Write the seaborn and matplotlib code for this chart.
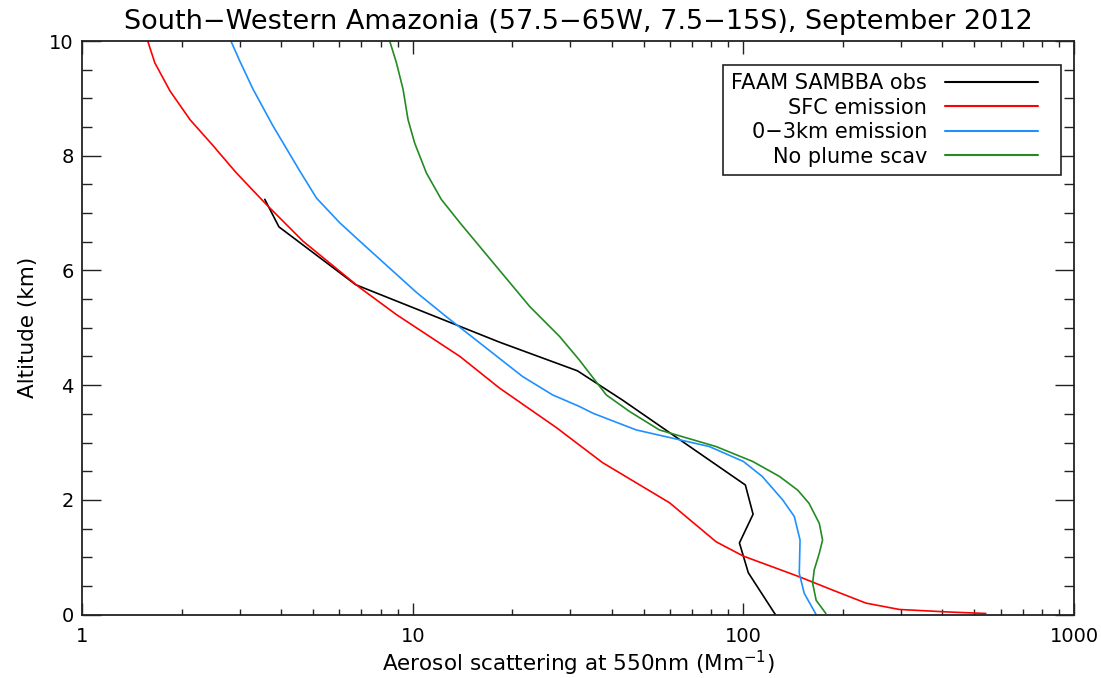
import numpy as np
import pandas as pd
import matplotlib
matplotlib.use("Agg")
import matplotlib.pyplot as plt
import seaborn as sns
from matplotlib.ticker import LogLocator, MultipleLocator, FixedLocator, NullFormatter
from matplotlib.lines import Line2D
from matplotlib.legend_handler import HandlerLine2D

# ---- data ----
series_names = ["FAAM SAMBBA obs", "SFC emission", "0\u22123km emission", "No plume scav"]
series_colors = ["#000000", "#ff0000", "#1e90ff", "#228b22"]

obs_x = [3.57, 3.94, 6.73, 18.3, 31.5, 43.1, 101.4, 107, 97.3, 103.5, 125]
obs_y = [7.24, 6.76, 5.75, 4.75, 4.25, 3.74, 2.26, 1.75, 1.25, 0.73, 0.0]

sfc_x = [1.58, 1.66, 1.845, 2.12, 2.47, 2.93, 3.61, 4.66, 6.92, 8.93, 13.9, 18.3,
         27.2, 37.5, 59.8, 82.7, 100, 147.6, 185.7, 235, 296, 419, 541]
sfc_y = [10.0, 9.62, 9.13, 8.63, 8.2, 7.70, 7.15, 6.51, 5.70, 5.23, 4.50, 3.95,
         3.26, 2.65, 1.95, 1.27, 1.02, 0.66, 0.43, 0.20, 0.09, 0.045, 0.02]

blue_x = [2.82, 3.0, 3.29, 3.78, 4.56, 5.12, 6.02, 6.92, 10.3, 12.6, 21.5, 26.5, 31.9,
          35.1, 47.4, 78.9, 100, 114, 131.5, 142.6, 148.4, 147.6, 152.8, 162, 166]
blue_y = [10.0, 9.65, 9.16, 8.52, 7.73, 7.26, 6.83, 6.51, 5.61, 5.20, 4.15, 3.83, 3.63,
          3.51, 3.22, 2.93, 2.67, 2.41, 2.0, 1.71, 1.30, 0.72, 0.37, 0.11, 0.0]

green_x = [8.52, 8.93, 9.35, 9.68, 10.14, 11.0, 12.2, 13.9, 17.9, 22.6, 27.8, 31.9,
           38.5, 45.3, 55.7, 82.7, 106.7, 128.5, 146, 158, 169.7, 173.6, 169.7,
           163.8, 162, 166, 177.6]
green_y = [10.0, 9.62, 9.16, 8.63, 8.22, 7.70, 7.24, 6.83, 6.07, 5.37, 4.85, 4.44,
           3.83, 3.54, 3.22, 2.93, 2.67, 2.41, 2.17, 1.94, 1.59, 1.30, 1.07,
           0.78, 0.55, 0.25, 0.02]

x_ticks = [1, 10, 100, 1000]
x_ticklabels = ["1", "10", "100", "1000"]
y_ticks = [0, 2, 4, 6, 8, 10]

title = "South\u2212Western Amazonia (57.5\u221265W, 7.5\u221215S), September 2012"
xlabel = "Aerosol scattering at 550nm (Mm$^{-1}$)"
ylabel = "Altitude (km)"

# ---- build long-form frame ----
frames = []
for name, xs, ys in zip(series_names, [obs_x, sfc_x, blue_x, green_x],
                        [obs_y, sfc_y, blue_y, green_y]):
    frames.append(pd.DataFrame({"x": xs, "y": ys, "series": name,
                                "order": np.arange(len(xs))}))
df = pd.concat(frames, ignore_index=True)

sns.set_theme(style="white")
plt.rcParams["font.family"] = ["DejaVu Sans"]
plt.rcParams["mathtext.default"] = "regular"
plt.rcParams["text.color"] = "black"

fig = plt.figure(figsize=(11.01, 6.78), dpi=100)
ax = fig.add_axes([0.0745, 0.0935, 0.901, 0.846])

palette = dict(zip(series_names, series_colors))
sns.lineplot(data=df, x="x", y="y", hue="series", units="series", estimator=None,
             sort=False, palette=palette, linewidth=1.2, legend=False, ax=ax)

ax.set_xscale("log")
ax.set_xlim(1, 1000)
ax.set_ylim(0, 10)

ax.xaxis.set_major_locator(FixedLocator(x_ticks))
ax.set_xticklabels(x_ticklabels)
ax.xaxis.set_minor_locator(LogLocator(base=10, subs=np.arange(2, 10)))
ax.xaxis.set_minor_formatter(NullFormatter())
ax.yaxis.set_major_locator(FixedLocator(y_ticks))
ax.yaxis.set_minor_locator(MultipleLocator(0.5))

ax.tick_params(axis="x", which="major", direction="in", length=9, width=1.0,
               top=True, bottom=True, pad=9, labelsize=14, colors="#222222",
               labelcolor="black")
ax.tick_params(axis="x", which="minor", direction="in", length=4.5, width=1.0,
               top=True, bottom=True, colors="#222222")
ax.tick_params(axis="y", which="major", direction="in", length=14, width=1.0,
               left=True, right=True, pad=6, labelsize=14, colors="#222222",
               labelcolor="black")
ax.tick_params(axis="y", which="minor", direction="in", length=7, width=1.0,
               left=True, right=True, colors="#222222")

for sp in ax.spines.values():
    sp.set_color("#222222")
    sp.set_linewidth(1.3)

ax.set_title(title, fontsize=19.5, pad=9, color="black")
ax.set_xlabel(xlabel, fontsize=15.5, labelpad=2, color="black")
ax.set_ylabel(ylabel, fontsize=15.5, labelpad=8, color="black")


class ShortLineHandler(HandlerLine2D):
    """Legend line that leaves a gap at the right of its handle box."""
    def __init__(self, right_gap=0.72, **kw):
        super().__init__(**kw)
        self._right_gap = right_gap

    def get_xdata(self, legend, xdescent, ydescent, width, height, fontsize):
        xdata = np.array([-xdescent, -xdescent + width - self._right_gap * fontsize])
        return xdata, xdata


handles = [Line2D([], [], color=c, lw=1.5) for c in series_colors]
leg = ax.legend(handles, series_names, loc="upper right", bbox_to_anchor=(0.9865, 0.958),
                markerfirst=False, fontsize=15, handlelength=5.18, handletextpad=0.86,
                labelspacing=0.22, borderpad=0.38, fancybox=False, framealpha=1,
                edgecolor="#222222", borderaxespad=0,
                handler_map={Line2D: ShortLineHandler(right_gap=0.72)})
leg.get_frame().set_linewidth(1.2)

fig.savefig("out.png", dpi=100, facecolor="white")
